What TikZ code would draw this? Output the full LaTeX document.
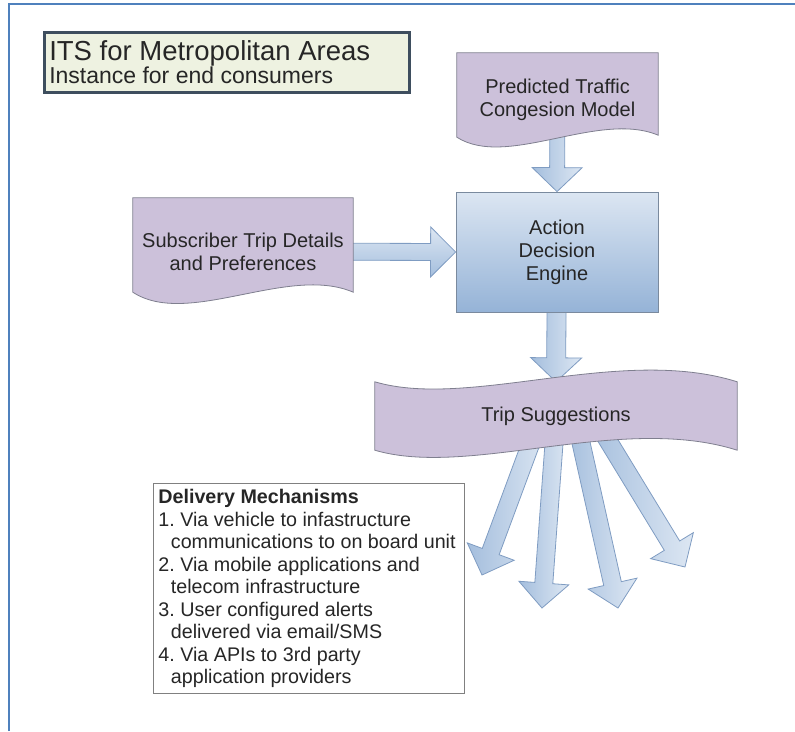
\documentclass[tikz,border=0pt]{standalone}
\usepackage{fontspec}
\setmainfont{Liberation Sans}
\usetikzlibrary{calc,backgrounds}

\definecolor{frameBlue}{HTML}{4F81BD}
\definecolor{docFill}{HTML}{CCC1DA}
\definecolor{docLine}{HTML}{7F7F8F}
\definecolor{boxTop}{HTML}{DCE6F2}
\definecolor{boxBtm}{HTML}{95B3D7}
\definecolor{boxLine}{HTML}{7A8A9E}
\definecolor{arrLight}{HTML}{DDE7F3}
\definecolor{arrDark}{HTML}{A4BEDD}
\definecolor{arrLine}{HTML}{7F9CC2}
\definecolor{titleFill}{HTML}{EEF2E1}
\definecolor{titleLine}{HTML}{3E4E5E}

% plain interword spaces inside aligned nodes
\newcommand{\plainsp}{\spaceskip=0pt\relax\xspaceskip=0pt\relax\frenchspacing}

\tikzset{
	doctext/.style={align=center, font=\fontsize{20}{23}\selectfont, text=black!85},
	docshape/.style={fill=docFill, draw=docLine, line width=0.8pt},
	barrow/.style={draw=arrLine, line width=0.8pt},
}

% block arrow: [shading]{from}{to}{shaft half width}{head half width}{head length}
\newcommand{\blockarrow}[6][]{%
	\coordinate (hb) at ($(#3)!#6!(#2)$);
	\path[barrow,#1] ($(#2)!#4!90:(#3)$) -- ($(hb)!#4!-90:(#2)$) -- ($(hb)!#5!-90:(#2)$) -- (#3) -- ($(hb)!#5!90:(#2)$) -- ($(hb)!#4!90:(#2)$) -- ($(#2)!#4!-90:(#3)$) -- cycle;
}

\begin{document}
\begin{tikzpicture}[x=1pt, y=-1pt]
	\useasboundingbox (0,0) rectangle (795,731);
	\draw[frameBlue, line width=2.5pt] (9,731) -- (9,4) -- (795,4);

	\node[anchor=north west, fill=titleFill, draw=titleLine, line width=2.5pt, text width=355pt, inner xsep=5pt, minimum height=60pt, align=left, text=black!85](title) at (43,31){\plainsp{\fontsize{27.5}{28}\selectfont ITS for Metropolitan Areas}\\{\fontsize{23}{24}\selectfont Instance for end consumers}};

	\node[doctext, minimum width=201pt, minimum height=94pt](pred) at (557.5,100){\plainsp Predicted Traffic\\Congesion Model};
	\node[doctext, minimum width=220pt, minimum height=107pt](subs) at (243,251.5){\plainsp Subscriber Trip Details\\and Preferences};
	\node[doctext, top color=boxTop, bottom color=boxBtm, draw=boxLine, line width=0.8pt, minimum width=202pt, minimum height=120pt](engine) at (557,252){Action\\Decision\\Engine};
	\node[doctext, minimum width=362pt, minimum height=68pt](trip) at (556,416){\plainsp Trip Suggestions};

	\node[anchor=north west, fill=white, draw=black!50, line width=0.8pt, text width=301pt, inner xsep=5pt, minimum height=210pt, align=left, text=black!85, font=\fontsize{19.7}{22.5}\selectfont](delivery) at (153,483){\plainsp\textbf{Delivery Mechanisms}\\1. Via vehicle to infastructure\\\hspace*{12.5pt}communications to on board unit\\2. Via mobile applications and\\\hspace*{12.5pt}telecom infrastructure\\3. User configured alerts\\\hspace*{12.5pt}delivered via email/SMS\\4. Via APIs to 3rd party\\\hspace*{12.5pt}application providers};

	\coordinate (s1) at ([xshift=-15pt]trip.center);
	\coordinate (s2) at (trip.center);
	\coordinate (s3) at ([xshift=19pt]trip.center);
	\coordinate (s4) at ([xshift=37pt]trip.center);
	\coordinate (d1) at (482,575);
	\coordinate (d2) at (542,608);
	\coordinate (d3) at (618,608);
	\coordinate (d4) at (685,567);

	\begin{pgfonlayer}{background}
		\blockarrow[top color=arrLight, bottom color=arrDark]{subs}{engine.west}{8.5pt}{25pt}{25pt}
		\blockarrow[left color=arrDark, right color=arrLight]{pred}{engine.north}{7.5pt}{25pt}{24pt}
		\blockarrow[left color=arrDark, right color=arrLight]{engine}{trip.north}{9.5pt}{25.5pt}{24pt}
		\blockarrow[left color=arrDark, right color=arrLight]{s1}{d1}{9pt}{25pt}{25pt}
		\blockarrow[left color=arrDark, right color=arrLight]{s2}{d2}{9pt}{25pt}{25pt}
		\blockarrow[left color=arrDark, right color=arrLight]{s3}{d3}{9pt}{25pt}{25pt}
		\blockarrow[left color=arrDark, right color=arrLight]{s4}{d4}{9pt}{25pt}{25pt}

		\draw[docshape] (pred.north west) -- (pred.north east) -- ([yshift=12pt]pred.south east) .. controls +(-60,-25) and +(50,32) .. ([yshift=10pt]pred.south west) -- cycle;
		\draw[docshape] (subs.north west) -- (subs.north east) -- ([yshift=13pt]subs.south east) .. controls +(-65,-28) and +(55,36) .. ([yshift=13pt]subs.south west) -- cycle;
		\draw[docshape] (trip.north west) .. controls +(95,28) and +(-117,-37) .. (trip.north east) -- (trip.south east) .. controls +(-117,-37) and +(95,28) .. (trip.south west) -- cycle;
	\end{pgfonlayer}
\end{tikzpicture}
\end{document}
